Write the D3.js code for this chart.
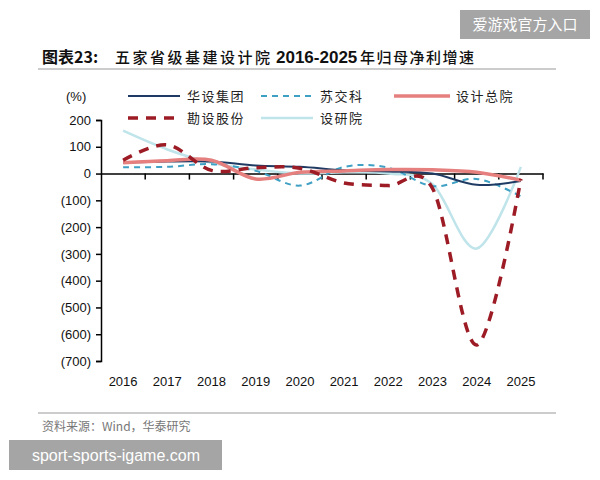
<!DOCTYPE html>
<html>
<head>
<meta charset="utf-8">
<script src="https://cdn.jsdelivr.net/npm/d3@7"></script>
<style>
  body { margin: 0; background: #fff; }
  svg { display: block; }
</style>
</head>
<body>
<div id="chart"></div>
<script>
// data
var years = ['2016','2017','2018','2019','2020','2021','2022','2023','2024','2025'];
var huashe  = [40, 45, 45, 30, 25, 12, 8, 0, -42, -28];
var sujiaoke = [24, 25, 35, 10, -45, 25, 22, -47, -20, -85];
var shejizy = [40, 48, 50, -20, 5, 10, 15, 14, 5, -25];
var kanshe  = [50, 107, 12, 22, 20, -35, -45, -55, -640, -20];
var sheyan  = [160, 90, 40, 15, 0, 5, 0, -40, -280, 25];
var yTicks = [200, 100, 0, -100, -200, -300, -400, -500, -600, -700];

var series = [
  { name: '华设集团', values: huashe,  color: '#1f3b63', width: 2,   dash: null },
  { name: '苏交科',   values: sujiaoke, color: '#3fa0c4', width: 2,   dash: '6,5' },
  { name: '设计总院', values: shejizy, color: '#e5807f', width: 3.5, dash: null },
  { name: '勘设股份', values: kanshe,  color: '#9c1b24', width: 3.5, dash: '10,8' },
  { name: '设研院',   values: sheyan,  color: '#bfe4ea', width: 2.5, dash: null }
];

var width = 600, height = 480;
var margin = { left: 101, right: 57, top: 120, bottom: 119 };

var svg = d3.select('#chart').append('svg')
  .attr('width', width).attr('height', height);

var cjk = '"Noto Sans CJK SC", "Liberation Sans", sans-serif';
var latin = '"Liberation Sans", Arial, sans-serif';

// title, in pieces so the spacing follows the original
var title = svg.append('g').attr('fill', '#111');
title.append('text').attr('x', 42).attr('y', 63)
  .attr('font-family', cjk).attr('font-weight', 'bold').attr('font-size', 16)
  .text('图表23:');
title.append('text').attr('x', 115).attr('y', 63)
  .attr('font-family', cjk).attr('font-weight', 500).attr('font-size', 15)
  .attr('letter-spacing', 2.5)
  .text('五家省级基建设计院');
title.append('text').attr('x', 276).attr('y', 63)
  .attr('font-family', latin).attr('font-weight', 'bold').attr('font-size', 17)
  .text('2016-2025');
title.append('text').attr('x', 360).attr('y', 63)
  .attr('font-family', cjk).attr('font-weight', 500).attr('font-size', 15)
  .attr('letter-spacing', 1.5)
  .text('年归母净利增速');
svg.append('line').attr('x1', 38).attr('x2', 556).attr('y1', 69).attr('y2', 69)
  .attr('stroke', '#9a9a9a').attr('stroke-width', 1.2);

var x = d3.scaleBand().domain(years)
  .range([margin.left, width - margin.right]);
var y = d3.scaleLinear().domain([-700, 200])
  .range([height - margin.bottom, margin.top]);

// y axis
var yAxis = svg.append('g')
  .attr('transform', 'translate(' + margin.left + ',0)')
  .call(d3.axisLeft(y).tickValues(yTicks).tickSize(5).tickPadding(5)
    .tickFormat(function(d){ return d < 0 ? '(' + (-d) + ')' : d; }));
yAxis.select('.domain').attr('stroke', '#000').attr('stroke-width', 1.5);
yAxis.selectAll('.tick line').attr('stroke', '#000').attr('stroke-width', 1.5);
yAxis.selectAll('text').attr('font-family', latin).attr('font-size', 13).attr('fill', '#111');

// x axis along zero
var xAxis = svg.append('g')
  .attr('transform', 'translate(0,' + y(0) + ')')
  .call(d3.axisBottom(x).tickSize(0).tickFormat(''));
xAxis.select('.domain').attr('stroke', '#000').attr('stroke-width', 1.5);
var bounds = years.map(function(d){ return x(d) + x.bandwidth(); });
svg.append('g').selectAll('line').data(bounds).enter().append('line')
  .attr('x1', function(d){ return d; }).attr('x2', function(d){ return d; })
  .attr('y1', y(0)).attr('y2', y(0) + 6)
  .attr('stroke', '#000').attr('stroke-width', 1.5);

// year labels at the bottom
svg.append('g').selectAll('text').data(years).enter().append('text')
  .attr('x', function(d){ return x(d) + x.bandwidth() / 2; })
  .attr('y', 386)
  .attr('text-anchor', 'middle')
  .attr('font-family', latin).attr('font-size', 13).attr('fill', '#111')
  .text(function(d){ return d; });

svg.append('text').attr('x', 66).attr('y', 101)
  .attr('font-family', latin).attr('font-size', 13).attr('fill', '#111')
  .text('(%)');

// lines
var line = d3.line()
  .x(function(d, i){ return x(years[i]) + x.bandwidth() / 2; })
  .y(function(d){ return y(d); })
  .curve(d3.curveCardinal.tension(0));

var order = [4, 1, 0, 2, 3];
svg.append('g').selectAll('path').data(order.map(function(i){ return series[i]; }))
  .enter().append('path')
  .attr('d', function(d){ return line(d.values); })
  .attr('fill', 'none')
  .attr('stroke', function(d){ return d.color; })
  .attr('stroke-width', function(d){ return d.width; })
  .attr('stroke-dasharray', function(d){ return d.dash; });

// legend
var legPos = [[128, 96], [261, 96], [394, 96], [128, 118], [261, 118]];
var leg = svg.append('g').selectAll('g').data(series).enter().append('g')
  .attr('transform', function(d, i){ return 'translate(' + legPos[i][0] + ',' + legPos[i][1] + ')'; });
leg.append('line').attr('x1', 0)
  .attr('x2', function(d, i){ return i == 2 ? 56 : 52; })
  .attr('y1', 0).attr('y2', 0)
  .attr('stroke', function(d){ return d.color; })
  .attr('stroke-width', function(d){ return d.width; })
  .attr('stroke-dasharray', function(d){ return d.dash; });
leg.append('text')
  .attr('x', function(d, i){ return i == 2 ? 62 : 59; })
  .attr('y', 5)
  .attr('font-family', cjk).attr('font-size', 13).attr('fill', '#222')
  .attr('letter-spacing', 1.5)
  .text(function(d){ return d.name; });

// footer
svg.append('line').attr('x1', 38).attr('x2', 556).attr('y1', 413).attr('y2', 413)
  .attr('stroke', '#9a9a9a').attr('stroke-width', 1.2);
svg.append('text').attr('x', 42).attr('y', 431)
  .attr('font-family', cjk).attr('font-size', 12).attr('fill', '#777')
  .text('资料来源：Wind，华泰研究');

// watermarks
svg.append('rect').attr('x', 460).attr('y', 10).attr('width', 130).attr('height', 29)
  .attr('fill', '#a5a5a5');
svg.append('text').attr('x', 525).attr('y', 30).attr('text-anchor', 'middle')
  .attr('font-family', cjk).attr('font-size', 15).attr('fill', '#fff')
  .text('爱游戏官方入口');
svg.append('rect').attr('x', 9).attr('y', 440).attr('width', 213).attr('height', 30)
  .attr('fill', '#a5a5a5');
svg.append('text').attr('x', 116).attr('y', 461).attr('text-anchor', 'middle')
  .attr('font-family', latin).attr('font-size', 16).attr('fill', '#fff')
  .text('sport-sports-igame.com');
</script>
</body>
</html>
